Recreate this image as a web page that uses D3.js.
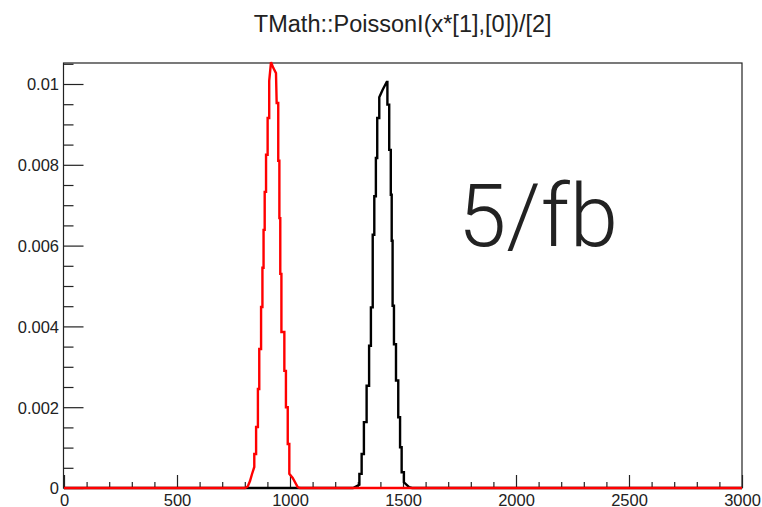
<!DOCTYPE html>
<html>
<head>
<meta charset="utf-8">
<script src="https://cdn.jsdelivr.net/npm/d3@7"></script>
<style>
  body { margin: 0; background: #fff; }
  text { font-family: "Liberation Sans", Arial, Helvetica, sans-serif; fill: #222; }
</style>
</head>
<body>
<script>
// ticks
var xTicks = [0, 500, 1000, 1500, 2000, 2500, 3000];
var xTickLabels = ["0", "500", "1000", "1500", "2000", "2500", "3000"];
var yTicks = [0, 0.002, 0.004, 0.006, 0.008, 0.01];
var yTickLabels = ["0", "0.002", "0.004", "0.006", "0.008", "0.01"];

// red curve vertices
var redX = [0, 801, 813, 823, 832, 842, 842, 850, 850, 858, 858, 864, 864, 872, 872, 878, 878, 883, 883,
  888, 888, 894, 894, 901, 901, 908, 908, 916, 926, 938, 941, 948, 948, 953, 953, 957, 957, 962, 962,
  975, 975, 982, 982, 990, 990, 997, 997, 1012, 1034, 1044, 3000];
var redY = [0, 0, 0.000037, 0.000173, 0.000347, 0.00052, 0.00084, 0.00084, 0.00151, 0.00151, 0.00245, 0.00245, 0.00344, 0.00344, 0.00448, 0.00448, 0.00545, 0.00545, 0.00639,
  0.00639, 0.00733, 0.00733, 0.00825, 0.00825, 0.00916, 0.00916, 0.01008, 0.01054, 0.0104, 0.01027, 0.00953, 0.00953, 0.0081, 0.0081, 0.00668, 0.00668, 0.0053, 0.0053, 0.00386,
  0.00386, 0.0029, 0.0029, 0.002, 0.002, 0.00109, 0.00109, 0.00035, 0.00025, 0.000025, 0, 0];

// black curve vertices
var blackX = [0, 1274, 1279, 1296, 1307, 1307, 1317, 1317, 1327, 1327, 1339, 1339, 1350, 1350, 1358, 1358,
  1366, 1366, 1373, 1373, 1380, 1380, 1386, 1386, 1395, 1395, 1410, 1428, 1431, 1431, 1439, 1439, 1446, 1446,
  1450, 1450, 1454, 1454, 1460, 1460, 1469, 1469, 1479, 1479, 1487, 1487, 1494, 1494, 1504, 1504, 1527, 1540, 3000];
var blackY = [0, 0, 0, 0.00005, 0.00008, 0.00035, 0.00035, 0.00084, 0.00084, 0.00163, 0.00163, 0.00253, 0.00253, 0.00352, 0.00352, 0.00447,
  0.00447, 0.00627, 0.00627, 0.00722, 0.00722, 0.00817, 0.00817, 0.00916, 0.00916, 0.00967, 0.00986, 0.01005, 0.01005, 0.00949, 0.00949, 0.00837, 0.00837, 0.00726,
  0.00726, 0.00612, 0.00612, 0.00451, 0.00451, 0.00356, 0.00356, 0.00266, 0.00266, 0.00175, 0.00175, 0.00101, 0.00101, 0.00039, 0.00039, 0.00014, 0.00002, 0, 0];

var W = 762, H = 507;
var padL = 63.5, padR = 742, padT = 63, padB = 488;

var svg = d3.select("body").append("svg").attr("width", W).attr("height", H);

var x = d3.scaleLinear().domain([0, 3000]).range([padL + 0.5, padR]);
var y = d3.scaleLinear().domain([0, 0.0105]).range([padB, padB - 0.0105 * 40400]);

// frame
svg.append("rect").attr("x", padL).attr("y", padT).attr("width", padR - padL).attr("height", padB - padT)
  .attr("fill", "none").attr("stroke", "#222").attr("stroke-width", 1.2);

// minor ticks
var xMinor = d3.range(0, 3001, 100).filter(function (d) { return d % 500 != 0; });
var yMinor = d3.range(0, 22).filter(function (i) { return i % 4 != 0; }).map(function (i) { return i * 0.0005; });

svg.append("g").attr("transform", "translate(0," + padB + ")")
  .call(d3.axisBottom(x).tickValues(xMinor).tickSize(-6).tickFormat(""))
  .call(function (g) { g.select(".domain").remove(); g.selectAll("line").attr("stroke", "#222").attr("stroke-width", 1.2); });
svg.append("g").attr("transform", "translate(" + padL + ",0)")
  .call(d3.axisLeft(y).tickValues(yMinor).tickSize(-10).tickFormat(""))
  .call(function (g) { g.select(".domain").remove(); g.selectAll("line").attr("stroke", "#222").attr("stroke-width", 1.2); });

// major ticks + labels
svg.append("g").attr("transform", "translate(0," + padB + ")")
  .call(d3.axisBottom(x).tickValues(xTicks).tickSize(-13).tickPadding(6)
    .tickFormat(function (d, i) { return xTickLabels[i]; }))
  .call(function (g) {
    g.select(".domain").remove();
    g.selectAll("line").attr("stroke", "#222").attr("stroke-width", 1.2);
    g.selectAll("text").style("font-size", "16.5px").attr("fill", "#222").style("font-family", "Liberation Sans, Arial, sans-serif");
  });
svg.append("g").attr("transform", "translate(" + padL + ",0)")
  .call(d3.axisLeft(y).tickValues(yTicks).tickSize(-20).tickPadding(4.5)
    .tickFormat(function (d, i) { return yTickLabels[i]; }))
  .call(function (g) {
    g.select(".domain").remove();
    g.selectAll("line").attr("stroke", "#222").attr("stroke-width", 1.2);
    g.selectAll("text").style("font-size", "16.5px").attr("fill", "#222").attr("dy", "0.36em").style("font-family", "Liberation Sans, Arial, sans-serif");
  });

// curves
var line = d3.line()
  .x(function (d) { return x(d[0]); })
  .y(function (d) { return y(d[1]); });

svg.append("path").datum(d3.zip(blackX, blackY))
  .attr("d", line).attr("fill", "none").attr("stroke", "#000").attr("stroke-width", 2.4).attr("stroke-linejoin", "miter");
svg.append("path").datum(d3.zip(redX, redY))
  .attr("d", line).attr("fill", "none").attr("stroke", "#ff0000").attr("stroke-width", 2.4).attr("stroke-linejoin", "miter");

// title
svg.append("text").attr("x", (padL + padR) / 2).attr("y", 31.5).attr("text-anchor", "middle")
  .style("font-size", "23.5px").text("TMath::PoissonI(x*[1],[0])/[2]");

// big label
svg.append("text").attr("x", 458).attr("y", 246)
  .style("font-family", "Roboto, 'Liberation Sans', sans-serif").style("font-weight", 300)
  .style("font-size", "87px").attr("fill", "#000").text("5/fb");
</script>
</body>
</html>
